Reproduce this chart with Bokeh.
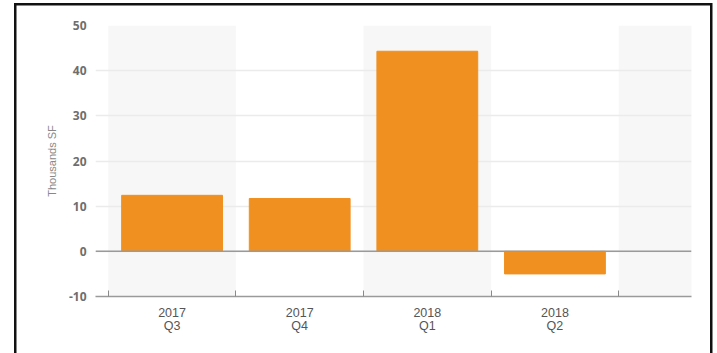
from bokeh.plotting import figure
from bokeh.models import Range1d, FixedTicker, Span
from bokeh.embed import file_html
from bokeh.resources import INLINE

quarters = ["2017\nQ3", "2017\nQ4", "2018\nQ1", "2018\nQ2"]
values = [12.4, 11.7, 44.3, -5.0]
y_ticks = [-10, 0, 10, 20, 30, 40, 50]

xs = [i + 0.5 for i in range(len(quarters))]

p = figure(width=717, height=353, output_backend="svg", toolbar_location=None,
           x_range=Range1d(-0.1, 4.57), y_range=Range1d(-10, 50),
           min_border_left=95, min_border_right=26, min_border_top=25, min_border_bottom=57)
p.outline_line_color = None
p.background_fill_color = "white"
p.border_fill_color = None
p.styles = {
    "background": ("linear-gradient(#111,#111) 14px 3px / 2.5px 400px no-repeat, "
                   "linear-gradient(#111,#111) 14px 3px / 698px 2.5px no-repeat, "
                   "linear-gradient(#111,#111) 710px 3px / 2.5px 400px no-repeat, white"),
}

p.vbar(x=xs, top=values, bottom=0, width=0.79, color="#F09020")

# alternating background bands
p.xgrid.ticker = FixedTicker(ticks=[0, 1, 2, 3, 4, 5])
p.xgrid.grid_line_color = None
p.xgrid.band_fill_color = "#f7f7f7"
p.xgrid.band_fill_alpha = 1
p.xgrid.level = "underlay"

p.ygrid.ticker = FixedTicker(ticks=y_ticks)
p.ygrid.grid_line_color = "#ebebeb"
p.ygrid.grid_line_width = 1.5

p.add_layout(Span(location=0, dimension="width", line_color="#9a9a9a", line_width=1.5))

# x axis
xa = p.xaxis[0]
xa.ticker = FixedTicker(ticks=xs, minor_ticks=[0, 1, 2, 3, 4])
xa.major_label_overrides = {x: q for x, q in zip(xs, quarters)}
xa.major_tick_line_color = None
xa.minor_tick_line_color = "#8a8a8a"
xa.minor_tick_in = 6
xa.minor_tick_out = 0
xa.axis_line_color = "#9a9a9a"
xa.axis_line_width = 1.5
xa.major_label_text_font = "Liberation Sans"
xa.major_label_text_font_size = "12.5px"
xa.major_label_text_line_height = 0.95
xa.major_label_text_color = "#555555"
xa.major_label_standoff = 3

# y axis
ya = p.yaxis[0]
ya.ticker = FixedTicker(ticks=y_ticks)
ya.major_label_overrides = {t: str(t) for t in y_ticks}
ya.axis_line_color = None
ya.major_tick_line_color = None
ya.minor_tick_line_color = None
ya.major_label_text_font = "Open Sans"
ya.major_label_text_font_size = "12px"
ya.major_label_text_font_style = "bold"
ya.major_label_text_color = "#6e6e6e"
ya.major_label_standoff = 3
ya.axis_label = "Thousands SF"
ya.axis_label_text_font = "Liberation Sans"
ya.axis_label_text_font_size = "11px"
ya.axis_label_text_font_style = "normal"
ya.axis_label_text_color = "#888888"
ya.axis_label_standoff = 8

open("out.html", "w").write(file_html(p, INLINE))
